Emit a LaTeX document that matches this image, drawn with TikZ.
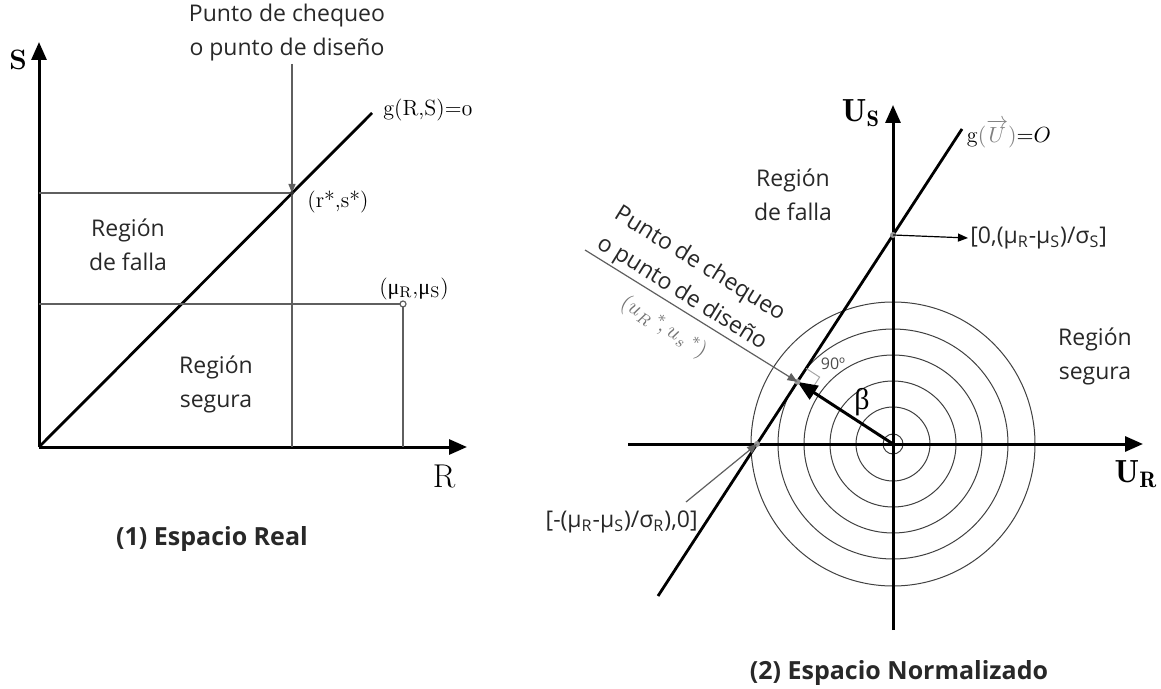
\documentclass[tikz,border=0pt]{standalone}
\usepackage{fontspec}
\usepackage{amsmath}
\newfontfamily\osans{Open Sans}
\newfontfamily\grfont{Liberation Serif}
\usetikzlibrary{arrows.meta, positioning, calc}
\definecolor{cthin}{RGB}{95,95,95}
\definecolor{ctext}{RGB}{40,40,40}
\definecolor{cdot}{RGB}{150,150,150}

\begin{document}
\begin{tikzpicture}[x=0.5pt, y=0.5pt,
    axis/.style={line width=1.5pt, -{Triangle[length=9pt,width=7.5pt]}},
    limit/.style={line width=1.4pt},
    guide/.style={cthin, line width=0.6pt},
    ring/.style={black!75, line width=0.5pt},
    lbl/.style={font=\osans\fontsize{11.5}{17}\selectfont, text=ctext, align=center, inner sep=1pt},
    ttl/.style={font=\osans\bfseries\fontsize{12.5}{15}\selectfont, text=ctext},
    mathlbl/.style={font=\fontsize{11}{13}\selectfont},
    tip/.style={-{Triangle[length=5pt,width=4pt]}},
]
    \useasboundingbox (0,0) rectangle (1161,-689);

    % (1) Espacio real
    \coordinate (O1) at (39,-447);
    \coordinate (Rtip) at (467,-447);
    \coordinate (Stip) at (39,-42);
    \coordinate (gend) at (372,-113);
    \coordinate (rs) at (292,-193);
    \coordinate (mu) at (403,-304);

    \draw[axis] (O1) -- (Stip);
    \draw[axis] (O1) -- (Rtip);
    \draw[limit] (O1) -- (gend);

    \node[font=\bfseries\fontsize{14}{14}\selectfont] (Slbl) at (18,-60) {S};
    \node[font=\fontsize{16.5}{16}\selectfont] (Rlbl) at (444,-476) {R};
    \node[mathlbl] (gRS) at (428,-110) {g(R,S)=$\mathchar"0130$};

    % design point
    \draw[guide] (O1 |- rs) -- (rs);
    \node[lbl] (chk) at (287,-33) {Punto de chequeo\\o punto de diseño};
    \draw[guide, -{Triangle[length=4.5pt,width=3.5pt]}] (rs |- chk.south) -- (rs);
    \draw[guide] (rs) -- (rs |- O1);
    \fill[black!80] (rs) circle (2);
    \node[mathlbl] (rslbl) at (338,-202) {(r*,s*)};

    % mean point
    \draw[guide] (O1 |- mu) -- (mu);
    \draw[guide] (mu) -- (mu |- O1);
    \filldraw[guide, fill=white] (mu) circle (3);
    \node[mathlbl] (mulbl) at (414,-289) {({\grfont μ}\textsubscript{R},{\grfont μ}\textsubscript{S})};

    \node[lbl] (fallaL) at (128,-245) {Región\\de falla};
    \node[lbl] (seguraL) at (216,-384) {Región\\segura};
    \node[ttl] (ttl1) at (212,-539) {(1) Espacio Real};

    % (2) Espacio normalizado
    \coordinate (O2) at (893,-444);
    \coordinate (URtip) at (1143,-444);
    \coordinate (URend) at (628,-444);
    \coordinate (UStip) at (893,-105);
    \coordinate (USend) at (893,-630);
    \coordinate (ur) at (757,-444);
    \coordinate (us) at (893,-235);
    \coordinate (gbot) at (658,-596);
    \coordinate (gtop) at (962,-129);
    \coordinate (foot) at ($(ur)!(O2)!(us)$);

    \foreach \r in {10,37,63,89,115,142}
        \draw[ring] (O2) circle (\r);

    \draw[axis] (URend) -- (URtip);
    \draw[axis] (USend) -- (UStip);
    \draw[limit] (gbot) -- (gtop);

    % 90 deg mark
    \coordinate (ra1) at ($(foot)!8pt!(gtop)$);
    \coordinate (ra3) at ($(foot)!8pt!(O2)$);
    \draw[black!35, line width=0.5pt] (ra1) -- ($(ra1)+(ra3)-(foot)$) -- (ra3);
    \node[font=\osans\fontsize{8}{8}\selectfont, text=black!70] (rlbl) at (833,-364) {90º};

    \draw[line width=1.5pt, -{Triangle[length=10pt,width=8pt]}] (O2) -- (foot);
    \node[font=\grfont\fontsize{15}{15}\selectfont] (beta) at (862,-402) {β};

    \fill[cdot] (foot) circle (3) (ur) circle (3) (us) circle (3);

    \coordinate (leadA) at (585,-250);
    \draw[guide, tip] (leadA) -- (foot)
        node[lbl, pos=0.42, sloped, above] (chk2) {Punto de chequeo\\o punto de diseño}
        node[pos=0.43, sloped, below=3pt, text=black!55, font=\fontsize{11}{13}\selectfont] (ustar) {$(u_{R}\,^{*}\!,u_{s}\,^{*})$};

    \node[lbl, anchor=west] (uslbl) at (968,-238) {[0,(μ\textsubscript{R}-μ\textsubscript{S})/σ\textsubscript{S}]};
    \draw[line width=0.6pt, tip] (us) -- (uslbl.west);

    \node[lbl, anchor=east] (urlbl) at (700,-522) {[-(μ\textsubscript{R}-μ\textsubscript{S})/σ\textsubscript{R}),0]};
    \coordinate (leadB) at (686,-502);
    \draw[guide, tip] (leadB) -- (ur);

    \node[lbl] (fallaR) at (793,-195) {Región\\de falla};
    \node[lbl] (seguraR) at (1095,-356) {Región\\segura};
    \node[font=\fontsize{16}{16}\selectfont] (USlbl) at (861,-113) {$\mathbf{U}_{\mathbf{S}}$};
    \node[font=\fontsize{16}{16}\selectfont] (URlbl) at (1136,-474) {$\mathbf{U}_{\mathbf{R}}$};
    \node[mathlbl] (gUlbl) at (1009,-134) {$\mathrm{g}{\color{gray}(\overrightarrow{U})}{=}O$};

    \node[ttl] (ttl2) at (899,-673) {(2) Espacio Normalizado};
\end{tikzpicture}
\end{document}
